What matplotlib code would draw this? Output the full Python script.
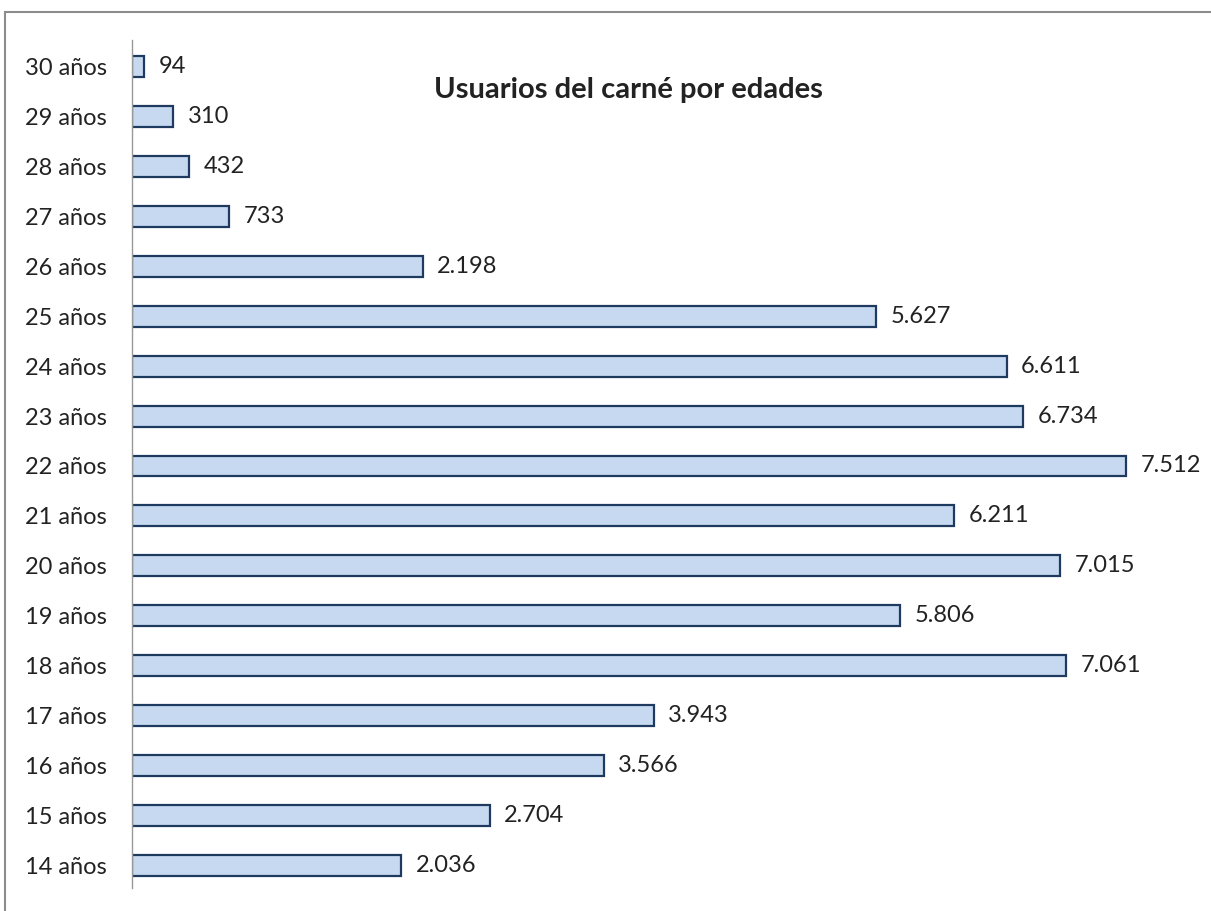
import matplotlib
matplotlib.use("Agg")
import matplotlib.pyplot as plt
from matplotlib.patches import Rectangle

categories = ["14 años", "15 años", "16 años", "17 años", "18 años", "19 años", "20 años",
              "21 años", "22 años", "23 años", "24 años", "25 años", "26 años", "27 años",
              "28 años", "29 años", "30 años"]
values = [2036, 2704, 3566, 3943, 7061, 5806, 7015, 6211, 7512, 6734, 6611, 5627, 2198,
          733, 432, 310, 94]
title = "Usuarios del carné por edades"

plt.rcParams['font.family'] = ['Lato', 'DejaVu Sans']

fig = plt.figure(figsize=(12.11, 9.11), dpi=100)
fig.patches.append(Rectangle((5/1211, -0.1), 1.2, (911-12)/911 + 0.1, transform=fig.transFigure,
                             fill=False, edgecolor="#8c8c8c", linewidth=1.5))
ax = fig.add_axes([132/1211, 23/911, (1211-132)/1211, (888-40)/911])

y = list(range(len(categories)))
ax.barh(y, values, height=0.42, color="#c6d9f1", edgecolor="#1f3a5f", linewidth=1.6)

def fmt(v):
    return f"{v:,}".replace(",", ".")

for yi, v in zip(y, values):
    ax.text(v + 110, yi, fmt(v), va="center", ha="left", fontsize=17, color="#222222")

ax.set_xlim(0, (1211-132)/0.1323)
ax.set_ylim(-0.46, 16.54)
ax.set_yticks(y)
ax.set_yticklabels(categories, fontsize=17, color="#222222")
ax.tick_params(axis="y", length=0, pad=18)
ax.set_xticks([])
for s in ["top", "right", "bottom"]:
    ax.spines[s].set_visible(False)
ax.spines["left"].set_color("#999999")
ax.spines["left"].set_linewidth(1.0)

fig.text(628/1211, 1 - 90/911, title, ha="center", va="center", fontsize=21,
         fontweight="bold", color="#222222")

fig.savefig("out.png", dpi=100)
